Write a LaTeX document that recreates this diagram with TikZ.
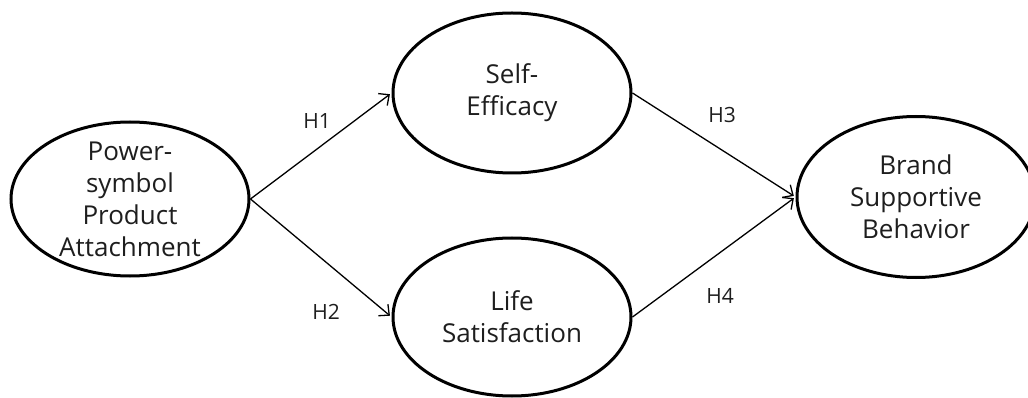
\documentclass[tikz,border=0pt]{standalone}
\usepackage{fontspec}
\setmainfont{Open Sans}
\usetikzlibrary{shapes.geometric,arrows.meta}
\definecolor{txt}{HTML}{1E1E1E}
\tikzset{
  ell/.style={draw=black, line width=3pt, ellipse, inner sep=0pt, minimum width=238pt},
  inner/.style={font=\fontsize{26}{32}\selectfont, align=center, text=txt, inner sep=0pt},
  hyp/.style={font=\fontsize{21}{24}\selectfont, text=txt, inner sep=0pt},
  conn/.style={line width=1.3pt, -{Straight Barb[length=8pt,width=15pt,line width=1.3pt]}, shorten >=2pt}
}
\begin{document}
\begin{tikzpicture}[x=1pt,y=-1pt]
\useasboundingbox (0,0) rectangle (1028,398);
\node[ell, minimum height=154pt, label={[inner]center:{Power-\\symbol\\Product\\Attachment}}] (pa) at (130,199) {};
\node[ell, minimum height=160pt, label={[inner]center:{Self-\\Efficacy}}] (se) at (512,93) {};
\node[ell, minimum height=158pt, label={[inner]center:{Life\\Satisfaction}}] (ls) at (512,317) {};
\node[ell, minimum height=161pt, label={[inner]center:{Brand\\Supportive\\Behavior}}] (bs) at (916,197) {};
\draw[conn] (pa.east) -- (se.west);
\draw[conn] (pa.east) -- (ls.west);
\draw[conn] (se.east) -- (bs.west);
\draw[conn] (ls.east) -- (bs.west);
\node[hyp] (h1) at (317,121) {H1};
\node[hyp] (h2) at (326,312) {H2};
\node[hyp] (h3) at (722,115) {H3};
\node[hyp] (h4) at (720,296) {H4};
\end{tikzpicture}
\end{document}
